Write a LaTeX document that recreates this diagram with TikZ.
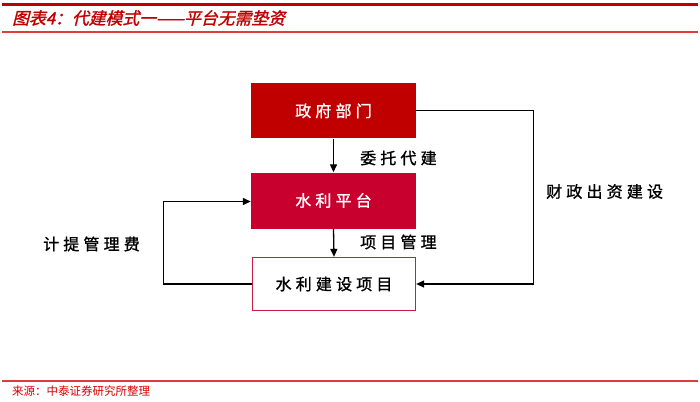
\documentclass[tikz,border=0pt]{standalone}
\usepackage{fontspec}
\newfontfamily\cjk[LetterSpace=26,FakeBold=1.2]{Noto Sans CJK SC}
\newfontfamily\cjktitle[FakeSlant=0.25,FakeBold=1.5]{Noto Sans CJK SC}
\newfontfamily\cjksrc{Noto Sans CJK SC}
\usetikzlibrary{arrows.meta}
\definecolor{darkred}{HTML}{C00000}
\definecolor{crim}{HTML}{C8002E}
\definecolor{bordred}{HTML}{CC1A44}
\definecolor{linered}{HTML}{E03C3C}
\tikzset{
  box/.style={minimum width=165pt,minimum height=55pt,inner sep=0pt,font=\cjk\fontsize{16}{18}\selectfont},
  conn/.style={line width=1.3pt,-{Triangle[length=8pt,width=7pt]}},
  lbl/.style={inner sep=0pt,font=\cjk\fontsize{16}{18}\selectfont,text=black}
}
\begin{document}
\begin{tikzpicture}[x=1pt,y=-1pt]
\useasboundingbox (0,0) rectangle (700,401);
% header
\fill[darkred] (2,3) rectangle (698,6.5);
\draw[linered,line width=1.2pt] (2,32) -- (698,32);
\node[anchor=west,inner sep=0pt,text=darkred,font=\cjktitle\fontsize{16.8}{20}\selectfont] (title) at (12,18) {图表4：代建模式一——平台无需垫资};
% footer
\draw[linered,line width=1.5pt] (2,381) -- (698,381);
\node[anchor=west,inner sep=0pt,text=red!85!black,font=\cjksrc\fontsize{11.5}{13}\selectfont] (src) at (12,391) {来源：中泰证券研究所整理};
% boxes
\node[box,fill=darkred,text=white] (gov) at (333.5,110.8) {政府部门};
\node[box,fill=crim,text=white,minimum height=56pt] (plat) at (333.5,200.5) {水利平台};
\node[box,draw=bordred,line width=1.3pt,fill=white,text=black,minimum width=163pt,minimum height=53pt] (proj) at (334,284) {水利建设项目};
% arrows
\draw[conn] (gov.south) -- (plat.north);
\draw[conn] (plat.south) -- (proj.north);
\coordinate (l1) at (163.5,284);
\coordinate (l2) at (163.5,201.5);
\draw[conn] (proj.west) -- (l1) -- (l2) -- (plat.west |- l2);
\coordinate (r1) at (533.5,110.8);
\coordinate (r2) at (533.5,284);
\draw[conn] (gov.east) -- (r1) -- (r2) -- (proj.east);
% labels
\node[lbl,anchor=west] (t1) at (360,158) {委托代建};
\node[lbl,anchor=west] (t2) at (360,242) {项目管理};
\node[lbl,anchor=west] (t3) at (43,244) {计提管理费};
\node[lbl,anchor=west] (t4) at (546,191.5) {财政出资建设};
\end{tikzpicture}
\end{document}
